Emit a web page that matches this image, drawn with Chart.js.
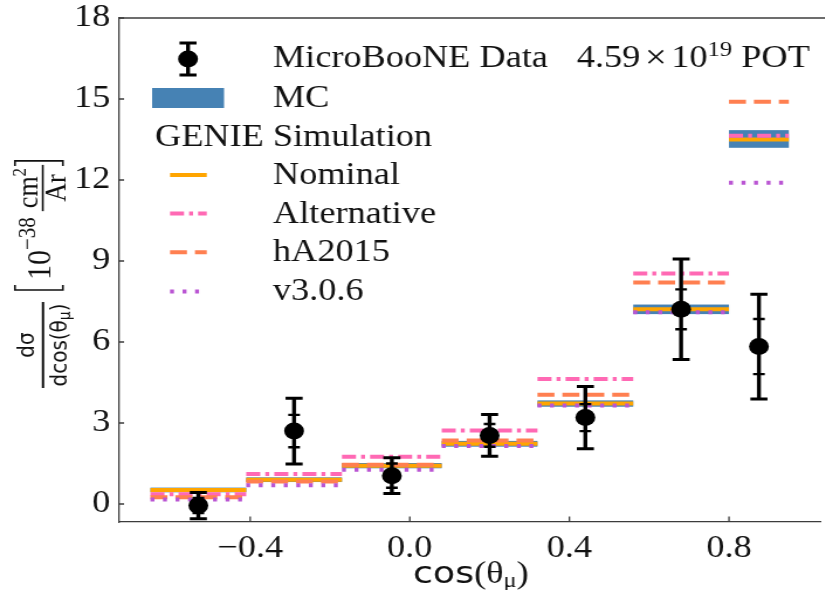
<!DOCTYPE html>
<html><head><meta charset="utf-8">
<script src="https://cdn.jsdelivr.net/npm/chart.js@4.4.1/dist/chart.umd.min.js"></script>
<style>
html,body{margin:0;padding:0;overflow:hidden;background:#fff;width:825px;height:590px}
#wrap{position:absolute;left:0;top:0;width:710px;height:590px;transform:scaleX(1.17);transform-origin:0 0}
canvas{display:block}
</style></head>
<body><div id="wrap"><canvas id="c" width="710" height="590"></canvas></div>
<script>
const S = 1.17; // horizontal stretch of the reference picture

// ---- data ----
const binEdges = [-0.65, -0.41, -0.17, 0.08, 0.32, 0.56, 0.80, 0.95];
const dataValues   = [-0.06, 2.70, 1.05, 2.54, 3.20, 7.21, 5.83];
const dataTotalErr = [0.49, 1.22, 0.66, 0.77, 1.15, 1.86, 1.94];
const dataStatErr  = [0.28, 0.60, 0.45, 0.42, 0.50, 0.74, 1.02];
const mcValues     = [0.52, 0.90, 1.42, 2.23, 3.72, 7.21, 13.52];
const mcErr        = [0.05, 0.05, 0.06, 0.07, 0.08, 0.14, 0.29];
const nominalValues     = [0.52, 0.90, 1.42, 2.23, 3.72, 7.21, 13.50];
const alternativeValues = [0.36, 1.11, 1.75, 2.72, 4.63, 8.54, 13.64];
const hA2015Values      = [0.25, 0.83, 1.45, 2.35, 4.05, 8.20, 14.90];
const v306Values        = [0.17, 0.69, 1.27, 2.15, 3.65, 7.10, 11.90];
const xTicks = [-0.4, 0.0, 0.4, 0.8];
const yTicks = [0, 3, 6, 9, 12, 15, 18];

const COL = {mc:'#4682b4', nominal:'#ffa500', alternative:'#ff69b4', hA2015:'#ff7f50', v306:'#ba55d3', ink:'#111111', spine:'#3c3c3c'};
const DASH = {nominal:[], alternative:[12,4.3,3.4,4.3], hA2015:[14.5,6.8], v306:[3.4,7.3]};
const SERIF = '"Liberation Serif","Times New Roman",serif';
const SANS = '"DejaVu Sans",sans-serif';

const binCenters = binEdges.slice(0,-1).map((e,i)=>(e+binEdges[i+1])/2);
function stepData(vals){
  const out=[];
  vals.forEach((v,i)=>{ out.push({x:binEdges[i],y:v},{x:binEdges[i+1],y:v},{x:binEdges[i+1],y:null}); });
  return out;
}
function stepSet(label, vals, key){
  return {label, data:stepData(vals), showLine:true, spanGaps:false, borderColor:COL[key], borderWidth:4,
    borderDash:DASH[key], borderCapStyle:'butt', pointRadius:0, pointHoverRadius:0, fill:false};
}

const mcBand = {
  id:'mcBand',
  beforeDatasetsDraw(chart){
    const {ctx, chartArea:a, scales:{x,y}} = chart;
    ctx.save(); ctx.beginPath(); ctx.rect(a.left,a.top,a.right-a.left,a.bottom-a.top); ctx.clip();
    ctx.fillStyle = COL.mc;
    mcValues.forEach((v,i)=>{
      const x0=x.getPixelForValue(binEdges[i]), x1=x.getPixelForValue(binEdges[i+1]);
      const y0=y.getPixelForValue(v+mcErr[i]), y1=y.getPixelForValue(v-mcErr[i]);
      ctx.fillRect(x0, y0-1, x1-x0, (y1-y0)+2);
    });
    ctx.restore();
  }
};

const errBars = {
  id:'errBars',
  afterDatasetsDraw(chart){
    const {ctx, scales:{x,y}} = chart;
    ctx.save(); ctx.strokeStyle='#000'; ctx.lineCap='butt';
    dataValues.forEach((v,i)=>{
      const px=x.getPixelForValue(binCenters[i]);
      const yt=y.getPixelForValue(v+dataTotalErr[i]), yb=y.getPixelForValue(v-dataTotalErr[i]);
      const st=y.getPixelForValue(v+dataStatErr[i]), sb=y.getPixelForValue(v-dataStatErr[i]);
      ctx.lineWidth=3.4; ctx.beginPath(); ctx.moveTo(px,yt); ctx.lineTo(px,yb); ctx.stroke();
      ctx.lineWidth=3; ctx.beginPath();
      ctx.moveTo(px-7.3,yt); ctx.lineTo(px+7.3,yt); ctx.moveTo(px-7.3,yb); ctx.lineTo(px+7.3,yb); ctx.stroke();
      ctx.lineWidth=2.4; ctx.beginPath();
      ctx.moveTo(px-5,st); ctx.lineTo(px+5,st); ctx.moveTo(px-5,sb); ctx.lineTo(px+5,sb); ctx.stroke();
    });
    ctx.restore();
  }
};

function rot(ctx, pageX, pageY, fn){ ctx.save(); ctx.translate(pageX/S, pageY); ctx.rotate(-Math.PI/2); fn(ctx); ctx.restore(); }

const frameAndText = {
  id:'frameAndText',
  afterDraw(chart){
    const {ctx, chartArea:a, scales:{x,y}} = chart;
    ctx.save();
    // top spine (right spine lies just outside the picture) and inward ticks
    ctx.strokeStyle=COL.spine; ctx.lineWidth=1.3;
    ctx.beginPath(); ctx.moveTo(a.left,a.top); ctx.lineTo(chart.width,a.top); ctx.stroke();
    ctx.beginPath();
    x.ticks.forEach(t=>{ const p=x.getPixelForValue(t.value); ctx.moveTo(p,a.bottom); ctx.lineTo(p,a.bottom-5.5); });
    y.ticks.forEach(t=>{ const p=y.getPixelForValue(t.value); ctx.moveTo(a.left,p); ctx.lineTo(a.left+4.7,p); });
    ctx.stroke();

    // legend
    ctx.fillStyle=COL.ink; ctx.textBaseline='middle'; ctx.textAlign='left';
    ctx.font='31px '+SERIF;
    const lx=233.3;
    ctx.fillText('MicroBooNE Data', lx, 59);
    ctx.fillText('MC', lx, 98.5);
    ctx.fillText('GENIE Simulation', 132.5, 137.5);
    ctx.fillText('Nominal', lx, 176);
    ctx.fillText('Alternative', lx, 214.5);
    ctx.fillText('hA2015', lx, 253);
    ctx.fillText('v3.0.6', lx, 291.5);
    // data marker sample
    ctx.strokeStyle='#000'; ctx.fillStyle='#000';
    ctx.lineWidth=3.4; ctx.beginPath(); ctx.moveTo(160.7,43); ctx.lineTo(160.7,75); ctx.stroke();
    ctx.lineWidth=3; ctx.beginPath(); ctx.moveTo(153.4,43); ctx.lineTo(168,43); ctx.moveTo(153.4,75); ctx.lineTo(168,75); ctx.stroke();
    ctx.beginPath(); ctx.arc(160.7,59,8.5,0,Math.PI*2); ctx.fill();
    // MC sample
    ctx.fillStyle=COL.mc; ctx.fillRect(130,88,61.5,20);
    // line samples
    [['nominal',175],['alternative',213.5],['hA2015',252.3],['v306',291.5]].forEach(([k,yy])=>{
      ctx.strokeStyle=COL[k]; ctx.lineWidth=4; ctx.lineCap='butt'; ctx.setLineDash(DASH[k]);
      ctx.beginPath(); ctx.moveTo(145.3,yy); ctx.lineTo(176.7,yy); ctx.stroke();
    });
    ctx.setLineDash([]);

    // POT text: 4.59×10^19 POT
    ctx.fillStyle=COL.ink; ctx.font='31px '+SERIF;
    let px=493;
    ctx.fillText('4.59', px, 59); px+=ctx.measureText('4.59').width+4;
    ctx.font='33px '+SERIF; ctx.fillText('\u00d7', px, 59); px+=ctx.measureText('\u00d7').width+4;
    ctx.font='31px '+SERIF; ctx.fillText('10', px, 59); px+=ctx.measureText('10').width;
    ctx.font='21px '+SERIF; ctx.fillText('19', px, 50); px+=ctx.measureText('19').width;
    ctx.font='31px '+SERIF; ctx.fillText(' POT', px, 59);

    // x title: cos(θμ)
    let xx=353; const ty=575;
    ctx.font='31px '+SANS; ctx.fillText('cos', xx, ty); xx+=ctx.measureText('cos').width;
    ctx.font='31px '+SERIF; ctx.fillText('(\u03b8', xx, ty); xx+=ctx.measureText('(\u03b8').width;
    ctx.font='21px '+SERIF; ctx.fillText('\u03bc', xx, ty+6); xx+=ctx.measureText('\u03bc').width;
    ctx.font='31px '+SERIF; ctx.fillText(')', xx, ty);

    // y title: dσ/dcos(θμ)  [10^-38 cm^2/Ar]
    rot(ctx, 43, 345, c=>{
      c.fillStyle=COL.ink; c.textBaseline='middle'; c.textAlign='left';
      c.font='20px '+SANS;
      const wn=c.measureText('d\u03c3').width; c.fillText('d\u03c3', -wn/2, -13);
      c.fillRect(-43,-1,86,2);
      const p1='dcos(\u03b8', p3=')';
      c.font='20px '+SANS; const w1=c.measureText(p1).width, w3=c.measureText(p3).width;
      c.font='14px '+SANS; const w2=c.measureText('\u03bc').width;
      let u=-(w1+w2+w3)/2;
      c.font='20px '+SANS; c.fillText(p1,u,15); u+=w1;
      c.font='14px '+SANS; c.fillText('\u03bc',u,20); u+=w2;
      c.font='20px '+SANS; c.fillText(p3,u,15);
    });
    rot(ctx, 43, 290, c=>{
      c.fillStyle=COL.ink; c.strokeStyle=COL.ink; c.textBaseline='middle'; c.textAlign='left';
      c.lineWidth=1.6;
      c.beginPath(); c.moveTo(5,-24); c.lineTo(0,-24); c.lineTo(0,17); c.lineTo(5,17); c.stroke();
      let u=10;
      c.font='30px '+SERIF; c.fillText('10',u,-2); u+=c.measureText('10').width;
      c.font='21px '+SERIF; c.fillText('\u221238',u,-12); u+=c.measureText('\u221238').width+6;
      c.font='26px '+SERIF;
      const wc=c.measureText('cm').width; c.font='17px '+SERIF; const w2=c.measureText('2').width;
      c.font='26px '+SERIF; const wa=c.measureText('Ar').width;
      const fw=Math.max(wc+w2,wa)+6;
      c.fillText('cm',u+(fw-wc-w2)/2,-12); c.font='17px '+SERIF; c.fillText('2',u+(fw-wc-w2)/2+wc,-19);
      c.fillRect(u,-1,fw,1.6);
      c.font='26px '+SERIF; c.fillText('Ar',u+(fw-wa)/2,12);
      u+=fw+4;
      c.beginPath(); c.moveTo(u-5,-24); c.lineTo(u,-24); c.lineTo(u,17); c.lineTo(u-5,17); c.stroke();
    });
    ctx.restore();
  }
};

new Chart(document.getElementById('c'), {
  type:'scatter',
  data:{datasets:[
    {label:'MicroBooNE Data', data:dataValues.map((v,i)=>({x:binCenters[i],y:v})), pointRadius:8.5, pointHoverRadius:8.5,
      backgroundColor:'#000', borderWidth:0, showLine:false},
    stepSet('v3.0.6', v306Values, 'v306'),
    stepSet('hA2015', hA2015Values, 'hA2015'),
    stepSet('Alternative', alternativeValues, 'alternative'),
    stepSet('Nominal', nominalValues, 'nominal')
  ]},
  options:{
    responsive:false, animation:false, devicePixelRatio:1,
    layout:{padding:{top:18,right:2,left:0,bottom:0}},
    plugins:{legend:{display:false}, tooltip:{enabled:false}},
    scales:{
      x:{type:'linear', min:-0.73, max:1.03,
        afterBuildTicks:s=>{ s.ticks = xTicks.map(v=>({value:v})); },
        afterFit:s=>{ s.height = 68; s.paddingLeft = 0; s.paddingRight = 0; },
        grid:{display:false, drawTicks:false},
        border:{display:true, color:COL.spine, width:1.3},
        ticks:{padding:8, color:COL.ink, font:{family:SERIF, size:31},
          callback:v=>{ const s=Number(v).toFixed(1); return s.replace('-','\u2212'); }}},
      y:{type:'linear', min:-0.667, max:18,
        afterBuildTicks:s=>{ s.ticks = yTicks.map(v=>({value:v})); },
        afterFit:s=>{ s.width = 101.3; s.paddingTop = 0; s.paddingBottom = 0; },
        grid:{display:false, drawTicks:false},
        border:{display:true, color:COL.spine, width:1.3},
        ticks:{padding:7, color:COL.ink, font:{family:SERIF, size:31}, callback:v=>String(v)}}
    }
  },
  plugins:[mcBand, errBars, frameAndText]
});
</script>
</body></html>
